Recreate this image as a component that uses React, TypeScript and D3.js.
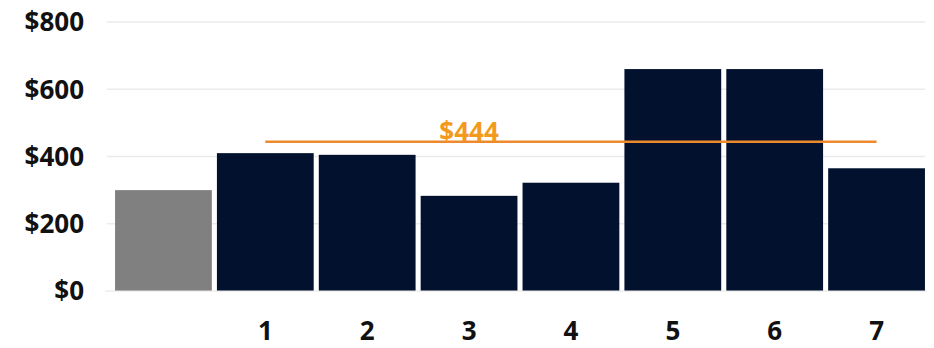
import React from "react";
import * as d3 from "d3";

const categories = ["", "1", "2", "3", "4", "5", "6", "7"];
const values = [300, 410, 405, 283, 322, 660, 660, 365];
const barColors = ["#808080", "#02122E", "#02122E", "#02122E", "#02122E", "#02122E", "#02122E", "#02122E"];
const yTicks = [0, 200, 400, 600, 800];
const averageValue = 444;
const averageLabel = "$444";
const averageFrom = "1";
const averageTo = "7";
const averageLabelAt = "3";

const W = 934;
const H = 348;

export default function App() {
  const x = d3.scaleBand<string>().domain(categories).range([112.5, 927.5]).paddingInner(0.05).paddingOuter(0.025);
  const y = d3.scaleLinear().domain([0, 800]).range([291, 22]);
  const font = "'Open Sans', sans-serif";
  const bw = x.bandwidth();
  return (
    <svg width={W} height={H} style={{ position: "absolute", left: 0, top: 0, background: "#fff" }}>
      {yTicks.map((t) => (
        <g key={t}>
          {t > 0 && <line x1={107} x2={925} y1={y(t)} y2={y(t)} stroke="#ebebeb" strokeWidth={1.5} />}
          <text x={84} y={y(t)} dy="0.36em" textAnchor="end" fontFamily={font} fontWeight={700} fontSize={26} fill="#111">
            {`$${t}`}
          </text>
        </g>
      ))}
      {categories.map((c, i) => (
        <rect key={i} x={x(c)} y={y(values[i])} width={bw} height={y(0) - y(values[i])} fill={barColors[i]} />
      ))}
      <line x1={105} x2={927} y1={y(0)} y2={y(0)} stroke="#e4e4e4" strokeWidth={1} />
      {categories.map((c, i) =>
        c ? (
          <text key={"l" + i} x={(x(c) as number) + bw / 2} y={331} dy="0.36em" textAnchor="middle" fontFamily={font} fontWeight={700} fontSize={26} fill="#111">
            {c}
          </text>
        ) : null
      )}
      <line
        x1={(x(averageFrom) as number) + bw / 2}
        x2={(x(averageTo) as number) + bw / 2}
        y1={y(averageValue)}
        y2={y(averageValue)}
        stroke="#EE8A2E"
        strokeWidth={2.5}
      />
      <text
        x={(x(averageLabelAt) as number) + bw / 2}
        y={y(averageValue) - 1}
        textAnchor="middle"
        fontFamily={font}
        fontWeight={700}
        fontSize={26}
        fill="#F39A1C"
      >
        {averageLabel}
      </text>
    </svg>
  );
}
